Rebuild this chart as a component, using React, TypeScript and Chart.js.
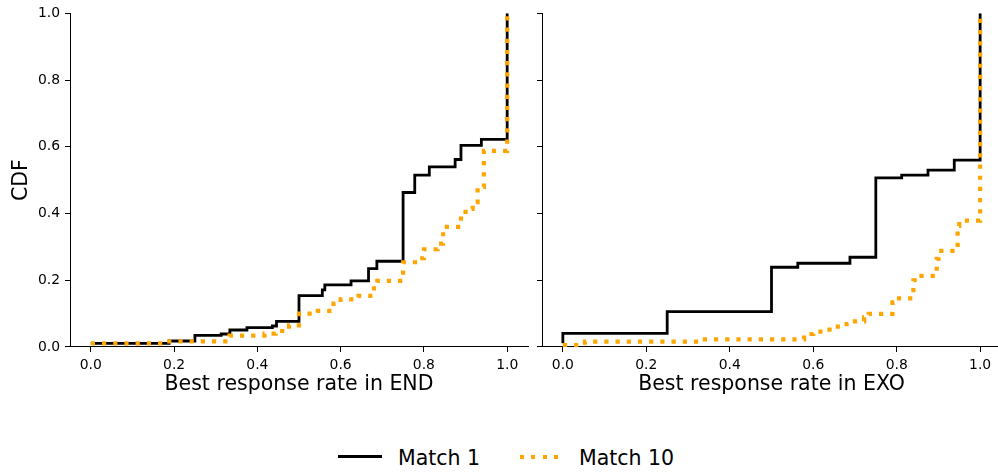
import React, { useEffect, useRef } from "react";
import { Chart, registerables } from "chart.js";

Chart.register(...registerables);

// Tick positions shared by both panels
const X_TICKS = [0, 0.2, 0.4, 0.6, 0.8, 1.0];
const Y_TICKS = [0, 0.2, 0.4, 0.6, 0.8, 1.0];

// Empirical CDF of the best response rate, endogenous setting (END)
const END_MATCH1_X = [0, 0.188, 0.25, 0.313, 0.334, 0.375, 0.436, 0.446, 0.5, 0.556, 0.562, 0.625, 0.667, 0.687, 0.75, 0.778, 0.813, 0.875, 0.889, 0.938, 1.0];
const END_MATCH1_Y = [0.011, 0.018, 0.035, 0.039, 0.051, 0.058, 0.063, 0.077, 0.154, 0.171, 0.186, 0.198, 0.235, 0.257, 0.463, 0.515, 0.54, 0.562, 0.604, 0.622, 1.0];

const END_MATCH10_X = [0, 0.176, 0.333, 0.417, 0.444, 0.476, 0.5, 0.545, 0.583, 0.6, 0.643, 0.68, 0.688, 0.75, 0.786, 0.8, 0.833, 0.846, 0.889, 0.9, 0.917, 0.929, 0.944, 1.0];
const END_MATCH10_Y = [0.011, 0.017, 0.034, 0.04, 0.048, 0.065, 0.1, 0.108, 0.13, 0.143, 0.153, 0.176, 0.198, 0.254, 0.266, 0.293, 0.31, 0.36, 0.396, 0.414, 0.434, 0.48, 0.588, 1.0];

// Empirical CDF of the best response rate, exogenous setting (EXO)
const EXO_MATCH1_X = [0, 0, 0.25, 0.5, 0.563, 0.688, 0.75, 0.812, 0.875, 0.938, 1.0];
const EXO_MATCH1_Y = [0.011, 0.041, 0.106, 0.239, 0.251, 0.269, 0.507, 0.515, 0.53, 0.56, 1.0];

const EXO_MATCH10_X = [0, 0.053, 0.333, 0.578, 0.6, 0.639, 0.68, 0.7, 0.722, 0.733, 0.79, 0.8, 0.84, 0.85, 0.896, 0.9, 0.946, 0.95, 1.0];
const EXO_MATCH10_Y = [0.006, 0.016, 0.023, 0.039, 0.046, 0.061, 0.069, 0.077, 0.089, 0.099, 0.134, 0.146, 0.2, 0.213, 0.264, 0.288, 0.363, 0.379, 1.0];

const SERIES_LABELS = ["Match 1", "Match 10"];
const X_TITLES = ["Best response rate in END", "Best response rate in EXO"];
const Y_TITLE = "CDF";

const FONT = '"DejaVu Sans", "Liberation Sans", sans-serif';
const ORANGE = "#FFA500";
const BLACK = "#000000";
const TICK_SIZE = 13.9;
const LABEL_SIZE = 20.5;

const toPoints = (xs: number[], ys: number[]) => xs.map((x, i) => ({ x, y: ys[i] }));

type PanelProps = {
  width: number;
  height: number;
  axisWidth: number;
  padRight: number;
  m1x: number[];
  m1y: number[];
  m10x: number[];
  m10y: number[];
  xTitle: string;
  showYLabels: boolean;
};

function Panel(props: PanelProps) {
  const ref = useRef<HTMLCanvasElement | null>(null);

  useEffect(() => {
    if (!ref.current) return;
    const { height, axisWidth, padRight, m1x, m1y, m10x, m10y, xTitle, showYLabels } = props;
    const plotBottom = 347;
    const chart = new Chart(ref.current, {
      type: "line",
      data: {
        datasets: [
          {
            label: SERIES_LABELS[0],
            data: toPoints(m1x, m1y),
            borderColor: BLACK,
            borderWidth: 2.8,
            stepped: "before",
            pointRadius: 0,
            fill: false,
            order: 1,
          },
          {
            label: SERIES_LABELS[1],
            data: toPoints(m10x, m10y),
            borderColor: ORANGE,
            borderWidth: 4.2,
            borderDash: [4.2, 7],
            borderCapStyle: "butt",
            stepped: "before",
            pointRadius: 0,
            fill: false,
            order: 0,
          },
        ],
      },
      options: {
        responsive: false,
        animation: false,
        devicePixelRatio: 1,
        layout: { padding: { top: 13, right: padRight, left: 0, bottom: 0 } },
        plugins: {
          legend: { display: false },
          tooltip: { enabled: false },
        },
        scales: {
          x: {
            type: "linear",
            min: -0.05,
            max: 1.05,
            afterBuildTicks: (s: any) => {
              s.ticks = X_TICKS.map((v) => ({ value: v }));
            },
            afterFit: (s: any) => {
              s.height = height - plotBottom;
            },
            grid: { drawOnChartArea: false, drawTicks: true, tickLength: 5, color: BLACK, lineWidth: 1 },
            border: { display: true, color: BLACK, width: 1 },
            ticks: {
              color: BLACK,
              font: { family: FONT, size: TICK_SIZE },
              padding: 5,
              maxRotation: 0,
              autoSkip: false,
              callback: (v: any) => Number(v).toFixed(1),
            },
            title: {
              display: true,
              text: xTitle,
              color: BLACK,
              font: { family: FONT, size: LABEL_SIZE },
              padding: { top: 0, bottom: 13.2 },
            },
          },
          y: {
            type: "linear",
            min: 0,
            max: 1,
            afterBuildTicks: (s: any) => {
              s.ticks = Y_TICKS.map((v) => ({ value: v }));
            },
            afterFit: (s: any) => {
              s.width = axisWidth;
            },
            grid: { drawOnChartArea: false, drawTicks: true, tickLength: 5, color: BLACK, lineWidth: 1 },
            border: { display: true, color: BLACK, width: 1 },
            ticks: {
              color: BLACK,
              font: { family: FONT, size: TICK_SIZE },
              padding: 5,
              autoSkip: false,
              callback: (v: any) => (showYLabels ? Number(v).toFixed(1) : ""),
            },
            title: {
              display: showYLabels,
              text: Y_TITLE,
              color: BLACK,
              font: { family: FONT, size: LABEL_SIZE },
              padding: { top: 9.5, bottom: 0 },
            },
          },
        },
      },
    } as any);
    return () => chart.destroy();
  }, []);

  return (
    <canvas
      ref={ref}
      width={props.width}
      height={props.height}
      style={{ width: props.width, height: props.height, display: "block" }}
    />
  );
}

const legendText: React.CSSProperties = {
  position: "absolute",
  top: 446,
  height: 24,
  lineHeight: "24px",
  fontFamily: FONT,
  fontSize: LABEL_SIZE,
  color: BLACK,
  whiteSpace: "nowrap",
};

export default function App() {
  return (
    <div
      style={{
        position: "fixed",
        left: 0,
        top: 0,
        width: 998,
        height: 472,
        overflow: "hidden",
        background: "#ffffff",
      }}
    >
      <div style={{ position: "absolute", left: 0, top: 0 }}>
        <Panel
          width={535}
          height={410}
          axisWidth={70}
          padRight={7}
          m1x={END_MATCH1_X}
          m1y={END_MATCH1_Y}
          m10x={END_MATCH10_X}
          m10y={END_MATCH10_Y}
          xTitle={X_TITLES[0]}
          showYLabels={true}
        />
      </div>
      <div style={{ position: "absolute", left: 530, top: 0 }}>
        <Panel
          width={471}
          height={410}
          axisWidth={12}
          padRight={0}
          m1x={EXO_MATCH1_X}
          m1y={EXO_MATCH1_Y}
          m10x={EXO_MATCH10_X}
          m10y={EXO_MATCH10_Y}
          xTitle={X_TITLES[1]}
          showYLabels={false}
        />
      </div>

      {/* legend */}
      <div style={{ position: "absolute", left: 338, top: 455.3, width: 44, height: 2.8, background: BLACK }} />
      <span style={{ ...legendText, left: 398 }}>{SERIES_LABELS[0]}</span>
      <div
        style={{
          position: "absolute",
          left: 520,
          top: 454.6,
          width: 38.2,
          height: 4.2,
          background: `repeating-linear-gradient(to right, ${ORANGE} 0px, ${ORANGE} 4.2px, transparent 4.2px, transparent 11.3px)`,
        }}
      />
      <span style={{ ...legendText, left: 579 }}>{SERIES_LABELS[1]}</span>
    </div>
  );
}
